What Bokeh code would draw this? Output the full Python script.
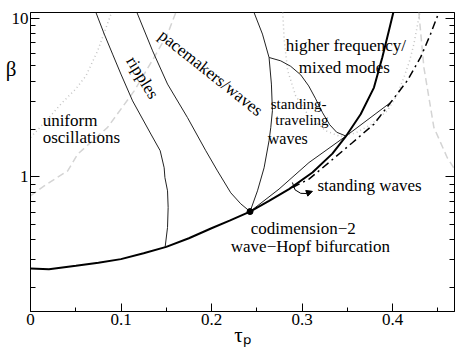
import math
from bokeh.plotting import figure
from bokeh.models import (Range1d, FixedTicker, LogAxis, Label, Arrow, NormalHead,
                          CustomJSTickFormatter, BasicTickFormatter)
from bokeh.embed import file_html
from bokeh.resources import INLINE

# ---------------- data (tau_p, beta) ----------------
x_major = [0, 0.1, 0.2, 0.3, 0.4]
x_minor = [0.05, 0.15, 0.25, 0.35, 0.45]
y_major = [1, 10]
y_minor = [0.2, 0.3, 0.4, 0.5, 0.6, 0.7, 0.8, 0.9, 2, 3, 4, 5, 6, 7, 8, 9]
beta_label_pos = [4.8]

hopf_tau = [0, .0204, .0502, .075, .0999, .125, .15, .175, .2, .22, .2426, .2636, .2857, .3115,
            .3336, .3482, .3648, .3795, .3887, .396, .4009]
hopf_beta = [.264, .262, .275, .287, .303, .33, .362, .41, .474, .53, .604, .706, .837, 1.064,
             1.40, 1.79, 2.48, 3.65, 5.65, 8.32, 10.85]

dashdot_tau = [.2894, .3077, .3297, .3556, .3795, .3979, .4163, .431, .442, .4512]
dashdot_beta = [.856, .967, 1.23, 1.64, 2.15, 2.94, 4.03, 5.65, 7.93, 10.85]

ripples_tau = [.0723, .0815, .0907, .0999, .1128, .133, .1433, .1477, .1485, .1514, .1521, .1514, .1488]
ripples_beta = [10.85, 7.93, 5.93, 4.44, 3.01, 1.86, 1.46, 1.14, .99, .816, .641, .48, .362]

pace_tau = [.1176, .1349, .1514, .1735, .1937, .2066, .2213, .2323, .2426]
pace_beta = [10.85, 6.22, 3.84, 2.36, 1.46, 1.09, .793, .676, .604]

mid_tau = [.247, .2563, .2636, .2662, .2673, .2655, .2636, .2581, .2508, .2426]
mid_beta = [10.85, 7.93, 5.65, 3.84, 2.61, 2.05, 1.69, 1.14, .816, .604]

stu_tau = [.2636, .2765, .2875, .2986, .3074, .3151, .3228, .3306, .3383, .3482]
stu_beta = [5.65, 5.38, 4.97, 4.39, 3.74, 3.10, 2.53, 2.13, 1.91, 1.81]

stl_tau = [.2426, .2746, .3077, .3482, .3979]
stl_beta = [.604, .837, 1.23, 1.80, 2.94]

ldot_tau = [0, .0171, .0337, .0502, .0613, .0742, .0822, .0889]
ldot_beta = [1.77, 2.25, 2.88, 3.59, 4.33, 6.22, 8.32, 10.6]

mdot_tau = [.2787, .2804, .2842, .293, .3074, .3262, .3427, .3593, .3759, .3943, .4045, .4126, .4189, .4236, .4302]
mdot_beta = [10.85, 7.19, 4.66, 3.24, 2.42, 1.95, 1.79, 1.89, 2.13, 2.61, 3.24, 4.22, 5.38, 6.86, 10.85]

ldash_tau = [0, .0152, .0411, .0521, .0852, .1146, .1366, .1514, .1606]
ldash_beta = [.759, .878, 1.09, 1.39, 2.05, 3.48, 5.65, 7.93, 10.85]

rdash_tau = [.4291, .4347, .4457, .4605, .4685]
rdash_beta = [10.85, 4.88, 2.05, 1.32, 1.12]

codim_tau = [.2426]
codim_beta = [.604]

tick_tau = [.2894, .2923]
tick_beta = [.921, .828]
arrow_tau = [.2923, .2986, .3046]
arrow_beta = [.828, .787, .785]
arrow_tip = (.3115, .81)

FONT = '"Liberation Serif"'

p = figure(frame_width=424, frame_height=299,
           x_range=Range1d(0, 0.4685), y_range=Range1d(0.1417, 10.85),
           y_axis_type="log", output_backend="svg", toolbar_location=None,
           min_border_left=30, min_border_right=15, min_border_top=12, min_border_bottom=41)
p.xgrid.visible = False
p.ygrid.visible = False
p.outline_line_color = "black"
p.outline_line_width = 1
p.background_fill_color = "white"
p.border_fill_color = "white"

p.xaxis.ticker = FixedTicker(ticks=x_major, minor_ticks=x_minor)
p.xaxis.formatter = BasicTickFormatter()
p.yaxis.ticker = FixedTicker(ticks=y_major, minor_ticks=y_minor)
p.yaxis.formatter = BasicTickFormatter()
for ax in (p.xaxis[0], p.yaxis[0]):
    ax.major_tick_out = 0
    ax.minor_tick_out = 0
    ax.axis_line_color = "black"
    ax.major_tick_line_color = "black"
    ax.minor_tick_line_color = "black"
    ax.major_label_text_font = FONT
    ax.major_label_text_font_size = "17px"
    ax.major_label_text_color = "black"
p.xaxis.major_tick_in = 8
p.xaxis.minor_tick_in = 4
p.xaxis.major_label_standoff = 2
p.yaxis.major_tick_in = 9
p.yaxis.minor_tick_in = 5
p.yaxis.major_label_standoff = 2

p.xaxis.axis_label = "\u03c4\u209a"
p.xaxis.axis_label_text_font = FONT
p.xaxis.axis_label_text_font_size = "21px"
p.xaxis.axis_label_text_font_style = "normal"
p.xaxis.axis_label_text_color = "black"
p.xaxis.axis_label_standoff = -5

ra = LogAxis(ticker=FixedTicker(ticks=y_major, minor_ticks=y_minor),
             formatter=CustomJSTickFormatter(code="return ''"),
             major_tick_in=9, major_tick_out=0, minor_tick_in=5, minor_tick_out=0,
             major_label_standoff=0, axis_line_color="black")
p.add_layout(ra, "right")

ba = LogAxis(ticker=FixedTicker(ticks=beta_label_pos, minor_ticks=[]),
             formatter=CustomJSTickFormatter(code="return '\u03b2'"),
             major_tick_in=0, major_tick_out=0, minor_tick_in=0, minor_tick_out=0,
             major_label_standoff=-8, axis_line_color=None, major_tick_line_color=None,
             minor_tick_line_color=None, major_label_text_font=FONT,
             major_label_text_font_size="21px", major_label_text_color="black")
p.add_layout(ba, "left")

# light gray guide curves
p.line(ldash_tau, ldash_beta, line_color="#d4d4d4", line_width=1.5, line_dash="7 4")
p.line(rdash_tau, rdash_beta, line_color="#d4d4d4", line_width=1.5, line_dash="7 4")
p.line(ldot_tau, ldot_beta, line_color="#c4c4c4", line_width=1.5, line_dash="1 3")
p.line(mdot_tau, mdot_beta, line_color="#c4c4c4", line_width=1.5, line_dash="1 3")

# thin boundaries
for xs, ys in [(ripples_tau, ripples_beta), (pace_tau, pace_beta), (mid_tau, mid_beta),
               (stu_tau, stu_beta), (stl_tau, stl_beta)]:
    p.line(xs, ys, line_color="#222222", line_width=1)

p.line(dashdot_tau, dashdot_beta, line_color="black", line_width=1.5, line_dash="8 4 2 4")
p.line(hopf_tau, hopf_beta, line_color="black", line_width=2)
p.scatter(codim_tau, codim_beta, size=6, color="black")

p.line(tick_tau, tick_beta, line_color="black", line_width=1)
p.line(arrow_tau, arrow_beta, line_color="black", line_width=1)
p.add_layout(Arrow(end=NormalHead(size=6, fill_color="black", line_color="black"),
                   x_start=arrow_tau[-1], y_start=arrow_beta[-1],
                   x_end=arrow_tip[0], y_end=arrow_tip[1], line_color="black", line_width=1))

labels = [
    ("uniform", .0134, 2.25, 17),
    ("oscillations", .0134, 1.774, 17),
    ("higher frequency/", .282, 6.69, 17),
    ("mixed modes", .2964, 4.88, 17),
    ("standing-", .2655, 2.86, 15),
    ("traveling", .2705, 2.29, 15),
    ("waves", .2622, 1.74, 16),
    ("standing waves", .317, .878, 17),
    ("codimension\u22122", .2434, .475, 17),
    ("wave\u2212Hopf bifurcation", .2213, .362, 17),
]
for t, x, y, fs in labels:
    p.add_layout(Label(x=x, y=y, text=t, text_font=FONT, text_font_size=f"{fs}px",
                       text_baseline="alphabetic", text_align="left", text_color="black"))

for t, x, y, ang in [("ripples", .1238, 4.22, -58.8), ("pacemakers/waves", .1992, 4.52, -38.5)]:
    p.add_layout(Label(x=x, y=y, text=t, text_font=FONT, text_font_size="17px",
                       text_baseline="middle", text_align="center", angle=math.radians(ang),
                       text_color="black"))

open("out.html", "w").write(file_html(p, INLINE))
